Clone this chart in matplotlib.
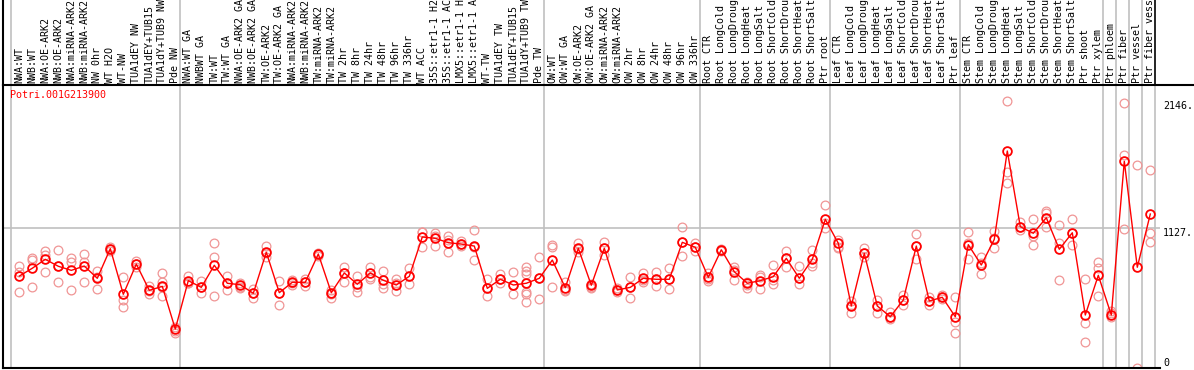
#!/usr/bin/env python3
"""
Expression profile of Potri.001G213900 across poplar samples.
"""

import matplotlib
matplotlib.use('Agg')
import matplotlib.pyplot as plt
import matplotlib.transforms as mtransforms

# Sample labels (one column each)
labels = [
    'NWA:WT', 'NWB:WT', 'NWA:OE-ARK2', 'NWB:OE-ARK2', 'NWA:miRNA-ARK2',
    'NWB:miRNA-ARK2', 'NW 0hr', 'WT H2O', 'WT-NW', 'TUA1dEY NW',
    'TUA1dEY+TUB15', 'TUA1dY+TUB9 NW', 'Pde NW',
    'NWA:WT GA', 'NWBWT GA', 'TW:WT', 'TW:WT GA', 'NWA:OE-ARK2 GA',
    'NWB:OE-ARK2 GA', 'TW:OE-ARK2', 'TW:OE-ARK2 GA', 'NWA:miRNA-ARK2',
    'NWB:miRNA-ARK2', 'TW:miRNA-ARK2', 'TW:miRNA-ARK2', 'TW 2hr', 'TW 8hr',
    'TW 24hr', 'TW 48hr', 'TW 96hr', 'TW 336hr', 'WT ACC',
    '35S::etr1-1 H2O', '35S::etr1-1 ACC', 'LMX5::etr1-1 H2O',
    'LMX5::etr1-1 ACC', 'WT-TW', 'TUA1dEY TW', 'TUA1dEY+TUB15',
    'TUA1dY+TUB9 TW', 'Pde TW',
    'OW:WT', 'OW:WT GA', 'OW:OE-ARK2', 'OW:OE-ARK2 GA', 'OW:miRNA-ARK2',
    'OW:miRNA-ARK2', 'OW 2hr', 'OW 8hr', 'OW 24hr', 'OW 48hr', 'OW 96hr',
    'OW 336hr',
    'Root CTR', 'Root LongCold', 'Root LongDrought', 'Root LongHeat',
    'Root LongSalt', 'Root ShortCold', 'Root ShortDrought', 'Root ShortHeat',
    'Root ShortSalt', 'Ptr root',
    'Leaf CTR', 'Leaf LongCold', 'Leaf LongDrought', 'Leaf LongHeat',
    'Leaf LongSalt', 'Leaf ShortCold', 'Leaf ShortDrought', 'Leaf ShortHeat',
    'Leaf ShortSalt', 'Ptr leaf',
    'Stem CTR', 'Stem LongCold', 'Stem LongDrought', 'Stem LongHeat',
    'Stem LongSalt', 'Stem ShortCold', 'Stem ShortDrought', 'Stem ShortHeat',
    'Stem ShortSalt', 'Ptr shoot', 'Ptr xylem', 'Ptr phloem', 'Ptr fiber',
    'Ptr vessel', 'Ptr fiber vessel',
]

# Mean expression per sample
means = [
    737, 800, 872, 816, 783, 818, 719, 958, 590, 834, 622, 654, 310,
    700, 646, 824, 679, 667, 598, 929, 603, 687, 687, 915, 603, 762, 671,
    762, 703, 665, 735, 1052, 1041, 1006, 995, 979, 638, 711, 665, 679, 719,
    866, 643, 961, 663, 961, 625, 646, 719, 711, 711, 1009, 969,
    727, 949, 772, 679, 700, 732, 880, 719, 872, 1194,
    1001, 496, 920, 496, 409, 544, 979, 536, 566, 409,
    990, 826, 1033, 1745, 1135, 1082, 1207, 953, 1086, 423, 743, 423, 1662,
    808, 1237,
]

# Individual replicate values per sample
replicates = [
    [818, 770, 609], [880, 866, 646], [939, 907, 767], [945, 687, 818],
    [880, 853, 625], [915, 853, 687], [780, 732, 630], [971, 959, 939],
    [732, 544, 490], [861, 834, 810], [657, 617, 592], [759, 692, 651, 576],
    [329, 297, 280],
    [737, 683, 679], [697, 651, 598], [1001, 888, 576], [737, 679, 622],
    [679, 651, 638], [630, 598, 558], [977, 920, 893], [700, 603, 504],
    [705, 681, 665], [711, 687, 657], [925, 915, 899], [625, 592, 558],
    [810, 762, 687], [737, 651, 611], [810, 727, 716], [778, 671, 641],
    [711, 683, 617], [800, 735, 671], [1095, 1092, 969], [1086, 1062, 979],
    [1062, 1028, 931], [1022, 995, 979], [1106, 971, 866], [711, 638, 576],
    [754, 711, 679], [767, 665, 590], [808, 780, 754, 611, 592, 528],
    [888, 719, 550],
    [987, 969, 651], [689, 625, 617], [1001, 953, 933], [671, 651, 638],
    [1012, 961, 907], [643, 625, 611], [727, 646, 558], [759, 705, 692],
    [772, 711, 659], [800, 711, 633], [1130, 1009, 899], [1001, 969, 941],
    [759, 711, 700], [958, 947, 941], [812, 786, 705], [692, 665, 643],
    [746, 727, 630], [824, 705, 673], [941, 880, 812], [821, 719, 671],
    [947, 845, 818], [1310, 1162, 1122],
    [1028, 974, 961], [538, 504, 437], [961, 920, 893], [544, 496, 437],
    [450, 409, 388], [587, 544, 501], [1076, 979, 872], [571, 536, 504],
    [584, 566, 550], [571, 369, 280],
    [1090, 1001, 872], [893, 840, 751], [1098, 1041, 961],
    [2146, 1578, 1485], [1175, 1135, 1108], [1194, 1060, 987],
    [1264, 1243, 1130], [1149, 1001, 705], [1194, 1086, 987],
    [711, 356, 203], [853, 800, 576], [458, 439, 409], [2135, 1713, 1114],
    [1630, 0], [1592, 1082, 1014],
]

# Column indices where a new group starts (vertical separators)
group_starts = [0, 13, 41, 53, 63, 73, 84, 85, 86, 87, 88]

gene_id = 'Potri.001G213900'
y_ticks = [0, 1127, 2146]
y_tick_labels = ['0', '1127.', '2146.']

W, H = 1194, 370
fig = plt.figure(figsize=(W / 100, H / 100), dpi=100)
mono = 'DejaVu Sans Mono'
fs = 7.2

# pixel layout
left_px, right_px = 2.7, 1160
plot_top, plot_bot = 85, 368
x0_px, dx_px = 19.3, 13.0
xmin = (left_px - x0_px) / dx_px

# Main plot axes
ax = fig.add_axes([left_px / W, (H - plot_bot) / H,
                   (right_px - left_px) / W, (plot_bot - plot_top) / H])
ax.set_xlim(xmin, (right_px - x0_px) / dx_px)
ax.set_ylim(-4, 2277)
ax.set_xticks([])
ax.set_yticks([])
for side in ['top', 'right']:
    ax.spines[side].set_visible(False)
ax.spines['left'].set_color('black')
ax.spines['bottom'].set_color('black')
ax.spines['left'].set_linewidth(1.5)
ax.spines['bottom'].set_linewidth(1.5)

for k in group_starts:
    ax.axvline(k - 0.62, color='#c0c0c0', linewidth=1.2, zorder=1)
ax.axhline(1127, color='#c0c0c0', linewidth=1.2, zorder=1)

# replicates
for i, reps in enumerate(replicates):
    ax.plot([i] * len(reps), reps, linestyle='none', marker='o',
            markersize=6.3, markerfacecolor='none', markeredgecolor='#f09595',
            markeredgewidth=0.9, zorder=2)

xs = list(range(len(means)))
ax.plot(xs, means, color='red', linewidth=1.0, zorder=3)
ax.plot(xs, means, linestyle='none', marker='o', markersize=6.3,
        markerfacecolor='none', markeredgecolor='red', markeredgewidth=1.3,
        zorder=4)

ax.text(-0.7, 2200, gene_id, color='red', fontsize=fs, family=mono,
        ha='left', va='center')

trans = mtransforms.blended_transform_factory(ax.transAxes, ax.transData)
for v, s in zip(y_ticks, y_tick_labels):
    va = 'bottom' if v == 0 else 'top'
    ax.text(1.0026, v, s, transform=trans, fontsize=fs, family=mono,
            ha='left', va=va, color='black')

# Header with rotated sample labels
hx = fig.add_axes([left_px / W, (H - plot_top) / H,
                   (W - left_px) / W, plot_top / H])
hx.set_xlim(xmin, (W - x0_px) / dx_px)
hx.set_ylim(0, 1)
hx.set_xticks([])
hx.set_yticks([])
hx.patch.set_alpha(0)
for side in ['top', 'right']:
    hx.spines[side].set_visible(False)
hx.spines['left'].set_linewidth(1.5)
hx.spines['bottom'].set_linewidth(1.5)

for k in group_starts:
    c = 'black' if k == 88 else '#c0c0c0'
    hx.axvline(k - 0.62, color=c, linewidth=1.2, zorder=1)

for i, lab in enumerate(labels):
    hx.text(i, 0.025, lab, rotation=90, fontsize=fs, family=mono,
            ha='center', va='bottom', color='black', clip_on=True)

fig.savefig('out.png', dpi=100)
